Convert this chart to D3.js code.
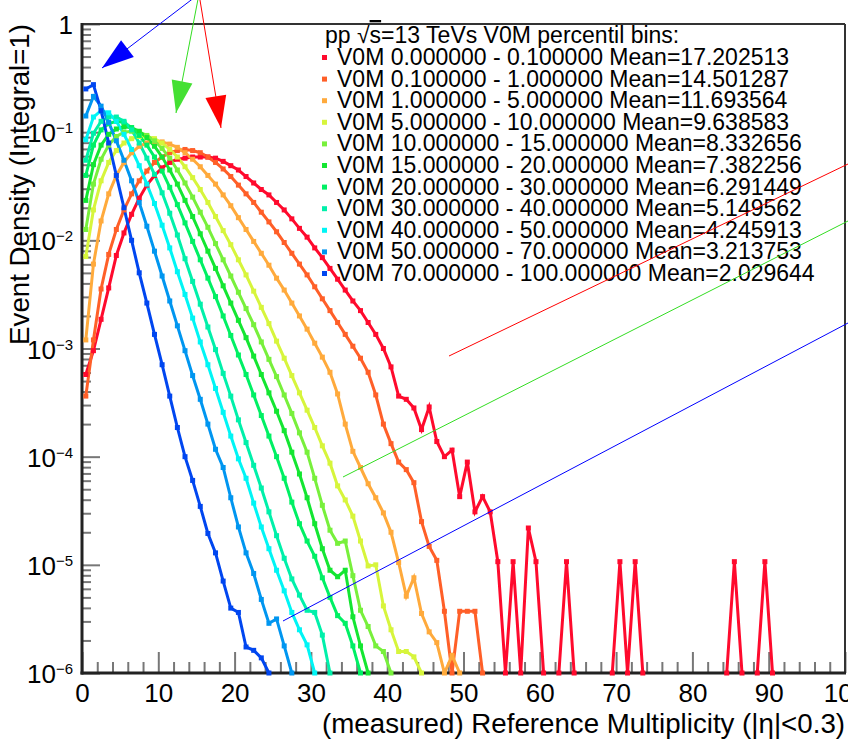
<!DOCTYPE html>
<html><head><meta charset="utf-8">
<script src="https://cdn.jsdelivr.net/npm/d3@7"></script>
<style>
html,body{margin:0;padding:0;background:#fff;overflow:hidden}
svg{display:block;font-family:"Liberation Sans",Arial,Helvetica,sans-serif}
</style></head><body>
<svg id="c" width="848" height="747"></svg>
<script>
// ---------------- DATA ----------------
// bin index k covers multiplicity [k, k+1); value = event density (integral = 1)
const percentileLow  = [0, 0.1, 1, 5, 10, 15, 20, 30, 40, 50, 70];
const percentileHigh = [0.1, 1, 5, 10, 15, 20, 30, 40, 50, 70, 100];
const meanMult = ["17.202513","14.501287","11.693564","9.638583","8.332656","7.382256","6.291449","5.149562","4.245913","3.213753","2.029644"];

const dens_0_01 = [5.75e-4, 9.55e-4, 1.86e-3, 3.63e-3, 7.24e-3, 1.17e-2, 1.74e-2, 2.45e-2, 3.24e-2, 3.98e-2,
 4.68e-2, 5.25e-2, 5.62e-2, 5.75e-2, 5.89e-2, 5.89e-2, 5.89e-2, 5.75e-2, 5.37e-2, 4.90e-2,
 4.47e-2, 3.89e-2, 3.39e-2, 2.95e-2, 2.63e-2, 2.24e-2, 1.91e-2, 1.58e-2, 1.29e-2, 1.07e-2,
 8.51e-3, 6.92e-3, 5.50e-3, 4.37e-3, 3.47e-3, 2.75e-3, 2.24e-3, 1.74e-3, 1.35e-3, 1.00e-3,
 6.76e-4, 3.63e-4, 3.39e-4, 2.82e-4, 1.78e-4, 2.88e-4, 1.38e-4, 1.00e-4, 1.15e-4, 4.27e-5,
 8.91e-5, 3.09e-5, 4.27e-5, 3.09e-5, 1.07e-5, 0, 1.07e-5, 0, 2.19e-5, 1.07e-5,
 0, 0, 0, 1.07e-5, 0, 0, 0, 0, 0, 0,
 1.07e-5, 0, 1.07e-5, 0, 0, 0, 0, 0, 0, 0,
 0, 0, 0, 0, 0, 1.07e-5, 0, 0, 0, 1.07e-5,
 0];
const dens_01_1 = [3.63e-4, 1.20e-3, 3.55e-3, 7.41e-3, 1.26e-2, 1.91e-2, 2.69e-2, 3.55e-2, 4.37e-2, 5.25e-2,
 5.89e-2, 6.46e-2, 6.76e-2, 6.92e-2, 6.76e-2, 6.46e-2, 5.89e-2, 5.25e-2, 4.57e-2, 3.89e-2,
 3.24e-2, 2.69e-2, 2.24e-2, 1.82e-2, 1.48e-2, 1.20e-2, 9.55e-3, 7.59e-3, 6.03e-3, 4.79e-3,
 3.72e-3, 2.88e-3, 2.24e-3, 1.74e-3, 1.35e-3, 1.05e-3, 8.13e-4, 6.03e-4, 3.72e-4, 2.00e-4,
 1.32e-4, 8.91e-5, 7.59e-5, 5.75e-5, 2.51e-5, 1.48e-5, 1.10e-5, 3.72e-6, 0, 3.72e-6,
 3.72e-6, 3.72e-6, 0];
const dens_1_5 = [1.20e-3, 6.03e-3, 1.51e-2, 2.69e-2, 3.98e-2, 5.25e-2, 6.46e-2, 7.41e-2, 7.94e-2, 8.13e-2,
 8.13e-2, 7.76e-2, 7.24e-2, 6.46e-2, 5.62e-2, 4.79e-2, 3.98e-2, 3.31e-2, 2.63e-2, 2.09e-2,
 1.62e-2, 1.26e-2, 9.77e-3, 7.59e-3, 5.89e-3, 4.47e-3, 3.47e-3, 2.63e-3, 2.00e-3, 1.51e-3,
 1.12e-3, 8.32e-4, 6.03e-4, 3.80e-4, 2.00e-4, 1.12e-4, 7.94e-5, 5.62e-5, 4.17e-5, 3.02e-5,
 2.00e-5, 1.05e-5, 5.13e-6, 7.59e-6, 3.55e-6, 2.40e-6, 1.91e-6, 0, 1.45e-6, 0];
const dens_5_10 = [7.08e-3, 1.91e-2, 3.55e-2, 5.25e-2, 6.76e-2, 7.94e-2, 8.71e-2, 9.12e-2, 9.12e-2, 8.71e-2,
 7.94e-2, 6.92e-2, 5.89e-2, 4.79e-2, 3.80e-2, 2.95e-2, 2.24e-2, 1.66e-2, 1.23e-2, 9.12e-3,
 6.61e-3, 4.79e-3, 3.39e-3, 2.40e-3, 1.70e-3, 1.17e-3, 8.13e-4, 5.62e-4, 3.89e-4, 2.69e-4,
 1.86e-4, 1.26e-4, 8.71e-5, 5.37e-5, 3.98e-5, 2.82e-5, 1.66e-5, 9.77e-6, 1.00e-5, 4.17e-6,
 2.51e-6, 1.58e-6, 1.58e-6, 1.41e-6, 0];
const dens_10_15 = [1.26e-2, 3.31e-2, 5.62e-2, 7.59e-2, 9.12e-2, 1.00e-1, 1.02e-1, 1.00e-1, 9.33e-2, 8.32e-2,
 7.08e-2, 5.75e-2, 4.47e-2, 3.39e-2, 2.51e-2, 1.82e-2, 1.32e-2, 9.33e-3, 6.61e-3, 4.68e-3,
 3.31e-3, 2.34e-3, 1.66e-3, 1.15e-3, 7.94e-4, 5.50e-4, 3.72e-4, 2.51e-4, 1.66e-4, 1.10e-4,
 6.31e-5, 3.55e-5, 2.09e-5, 1.58e-5, 1.66e-5, 7.94e-6, 3.80e-6, 2.69e-6, 1.78e-6, 1.58e-6,
 0];
const dens_15_20 = [2.34e-2, 5.01e-2, 7.59e-2, 9.55e-2, 1.07e-1, 1.12e-1, 1.10e-1, 1.02e-1, 8.91e-2, 7.41e-2,
 5.89e-2, 4.47e-2, 3.31e-2, 2.34e-2, 1.66e-2, 1.15e-2, 7.94e-3, 5.50e-3, 3.80e-3, 2.63e-3,
 1.82e-3, 1.26e-3, 8.51e-4, 5.75e-4, 3.89e-4, 2.63e-4, 1.74e-4, 1.10e-4, 6.92e-5, 4.17e-5,
 2.40e-5, 1.41e-5, 8.91e-6, 7.76e-6, 8.91e-6, 3.31e-6, 1.78e-6, 0];
const dens_20_30 = [3.98e-2, 7.59e-2, 1.05e-1, 1.20e-1, 1.26e-1, 1.23e-1, 1.10e-1, 9.33e-2, 7.59e-2, 5.89e-2,
 4.37e-2, 3.09e-2, 2.14e-2, 1.45e-2, 9.77e-3, 6.61e-3, 4.47e-3, 3.02e-3, 2.00e-3, 1.32e-3,
 8.71e-4, 5.75e-4, 3.72e-4, 2.40e-4, 1.55e-4, 1.00e-4, 6.31e-5, 3.80e-5, 2.40e-5, 1.66e-5,
 1.20e-5, 7.59e-6, 5.01e-6, 3.39e-6, 2.88e-6, 1.78e-6, 0];
const dens_30_40 = [5.50e-2, 9.77e-2, 1.26e-1, 1.38e-1, 1.38e-1, 1.26e-1, 1.05e-1, 7.94e-2, 5.75e-2, 4.07e-2,
 2.75e-2, 1.78e-2, 1.12e-2, 6.76e-3, 4.17e-3, 2.57e-3, 1.58e-3, 9.77e-4, 5.89e-4, 3.63e-4,
 2.19e-4, 1.35e-4, 8.32e-5, 5.13e-5, 3.09e-5, 1.86e-5, 1.15e-5, 7.41e-6, 5.25e-6, 3.80e-6,
 3.63e-6, 2.24e-6, 0];
const dens_40_50 = [8.51e-2, 1.38e-1, 1.58e-1, 1.51e-1, 1.26e-1, 9.55e-2, 6.92e-2, 4.90e-2, 3.31e-2, 2.19e-2,
 1.38e-2, 8.51e-3, 5.13e-3, 3.16e-3, 1.91e-3, 1.15e-3, 7.08e-4, 4.27e-4, 2.57e-4, 1.55e-4,
 9.55e-5, 6.31e-5, 3.72e-5, 2.24e-5, 1.41e-5, 8.91e-6, 5.75e-6, 3.63e-6, 2.51e-6, 1.82e-6,
 0];
const dens_50_70 = [1.41e-1, 2.14e-1, 1.74e-1, 1.23e-1, 8.32e-2, 5.50e-2, 3.55e-2, 2.24e-2, 1.35e-2, 7.94e-3,
 4.68e-3, 2.75e-3, 1.62e-3, 9.55e-4, 5.62e-4, 3.39e-4, 2.00e-4, 1.17e-4, 7.94e-5, 4.17e-5,
 2.24e-5, 1.29e-5, 8.32e-6, 4.79e-6, 2.88e-6, 3.16e-6, 1.78e-6, 0];
const dens_70_100 = [2.51e-1, 2.75e-1, 1.58e-1, 7.94e-2, 3.98e-2, 2.00e-2, 1.00e-2, 5.01e-3, 2.63e-3, 1.35e-3,
 7.08e-4, 3.63e-4, 1.86e-4, 1.00e-4, 6.03e-5, 3.47e-5, 1.95e-5, 1.29e-5, 7.08e-6, 3.98e-6,
 3.63e-6, 1.74e-6, 1.62e-6, 1.38e-6, 0];

const xMajorTicks = [0, 10, 20, 30, 40, 50, 60, 70, 80, 90, 100];
const yMajorTicks = [1e-6, 1e-5, 1e-4, 1e-3, 1e-2, 1e-1, 1];
const yTickExponents = [-6, -5, -4, -3, -2, -1, 0];

const legendHeader = "percentil bins:";
const xTitle = "(measured) Reference Multiplicity (|\u03b7|<0.3)";
const yTitle = "Event Density (Integral=1)";

// ---------------- STYLE ----------------
const colors = ["#ff0a2d","#ff5f28","#ffaa3c","#d7f53c","#78f03c","#14e632","#00f064","#00f0aa","#00f5f5","#0096f0","#0046f0"];
const allDens = [dens_0_01, dens_01_1, dens_1_5, dens_5_10, dens_10_15, dens_15_20, dens_20_30, dens_30_40, dens_40_50, dens_50_70, dens_70_100];
const series = allDens.map((vals, i) => ({
  label: `V0M ${percentileLow[i].toFixed(6)} - ${percentileHigh[i].toFixed(6)} Mean=${meanMult[i]}`,
  values: vals, color: colors[i]
}));

const L = 82, R = 845, T = 24, B = 673;
const FONT = "Liberation Sans, Arial, sans-serif";
const svg = d3.select("#c");
const x = d3.scaleLinear().domain([0, 100]).range([L, R]);
const y = d3.scaleLog().domain([1e-6, 1]).range([B, T]);
const yMin = 1e-6;

svg.append("rect").attr("width", 848).attr("height", 747).attr("fill", "#fff");

const defs = svg.append("defs");
defs.append("clipPath").attr("id", "clipL").append("rect").attr("x", L).attr("y", T).attr("width", R - L).attr("height", B - T + 1.5);
defs.append("clipPath").attr("id", "clipM").append("rect").attr("x", L - 3).attr("y", T).attr("width", R - L + 6).attr("height", B - T + 4);

// ---- axes ticks ----
const tickColor = "#777";
const xMinor = d3.range(0, 101, 2).filter(v => v % 10 !== 0);
const gxMinor = svg.append("g").attr("transform", `translate(0,${B})`)
  .call(d3.axisBottom(x).tickValues(xMinor).tickSize(-11).tickSizeOuter(0).tickFormat(""));
const gxMajor = svg.append("g").attr("transform", `translate(0,${B})`)
  .call(d3.axisBottom(x).tickValues(xMajorTicks).tickSize(-21).tickSizeOuter(0));
gxMajor.selectAll(".tick text").attr("y", 29).attr("dy", null)
  .attr("font-size", 26).attr("font-family", FONT).attr("fill", "#000");

const yMinor = [];
yMajorTicks.slice(0, -1).forEach(d => { for (let m = 2; m <= 9; m++) yMinor.push(d * m); });
const gyMinor = svg.append("g").attr("transform", `translate(${L},0)`)
  .call(d3.axisLeft(y).tickValues(yMinor).tickSize(-9).tickSizeOuter(0).tickFormat(""));
const gyMajor = svg.append("g").attr("transform", `translate(${L},0)`)
  .call(d3.axisLeft(y).tickValues(yMajorTicks).tickSize(-18).tickSizeOuter(0).tickFormat(""));
gyMajor.selectAll(".tick").each(function(d) {
  const g = d3.select(this);
  g.select("text").remove();
  const e = yTickExponents[yMajorTicks.indexOf(d)];
  const t = g.append("text").attr("x", -9).attr("y", 9.5).attr("text-anchor", "end")
    .attr("font-size", 26).attr("font-family", FONT).attr("fill", "#000");
  if (e === 0) t.text("1");
  else {
    t.append("tspan").text("10");
    t.append("tspan").attr("dy", -9).attr("font-size", 15).text("\u2212" + (-e));
  }
});
[gxMinor, gxMajor, gyMinor, gyMajor].forEach(g => {
  g.select(".domain").remove();
  g.selectAll(".tick line").attr("stroke", tickColor).attr("stroke-width", 2);
});

// ---- frame ----
svg.append("line").attr("x1", L).attr("x2", R).attr("y1", T).attr("y2", T).attr("stroke", "#333").attr("stroke-width", 2);
svg.append("line").attr("x1", R).attr("x2", R).attr("y1", T).attr("y2", B).attr("stroke", "#333").attr("stroke-width", 2);
svg.append("line").attr("x1", L).attr("x2", L).attr("y1", T - 1).attr("y2", B + 1.5).attr("stroke", "#222").attr("stroke-width", 3);
svg.append("line").attr("x1", L - 1.5).attr("x2", R + 1).attr("y1", B).attr("y2", B).attr("stroke", "#222").attr("stroke-width", 3);

// ---- series ----
const gLines = svg.append("g").attr("clip-path", "url(#clipL)");
const gMarks = svg.append("g").attr("clip-path", "url(#clipM)");
const lineGen = d3.line().x(d => x(d.k + 0.5)).y(d => y(Math.max(d.v, yMin)));
series.forEach(s => {
  const pts = s.values.map((v, k) => ({ k, v }));
  const runs = []; let cur = null; const used = new Set();
  for (let k = 0; k < pts.length - 1; k++) {
    if (pts[k].v > 0 || pts[k + 1].v > 0) {
      if (!cur) { cur = [pts[k]]; runs.push(cur); }
      cur.push(pts[k + 1]); used.add(k); used.add(k + 1);
    } else cur = null;
  }
  runs.forEach(r => gLines.append("path").attr("d", lineGen(r)).attr("fill", "none")
    .attr("stroke", s.color).attr("stroke-width", 3).attr("stroke-linejoin", "miter"));
  gMarks.selectAll(null).data(pts.filter(p => used.has(p.k))).enter().append("rect")
    .attr("x", d => x(d.k + 0.5) - 2.5).attr("y", d => y(Math.max(d.v, yMin)) - 2.5)
    .attr("width", 5).attr("height", 5).attr("fill", s.color);
});

// ---- titles ----
svg.append("text").attr("x", R).attr("y", 733).attr("text-anchor", "end")
  .attr("font-size", 27.7).attr("fill", "#000").text(xTitle);
svg.append("text").attr("transform", "rotate(-90)").attr("x", -T).attr("y", 29)
  .attr("text-anchor", "end").attr("font-size", 27.7).attr("fill", "#000").text(yTitle);

// ---- legend ----
const lg = svg.append("g");
const hdr = lg.append("text").attr("x", 325).attr("y", 43).attr("font-size", 23).attr("fill", "#000");
hdr.append("tspan").text("pp \u221a");
hdr.append("tspan").attr("text-decoration", "overline").text("s");
hdr.append("tspan").text("=13 TeVs V0M " + legendHeader);
series.forEach((s, i) => {
  const by = 65 + i * 21.6;
  lg.append("rect").attr("x", 322).attr("y", by - 10).attr("width", 5).attr("height", 5).attr("fill", s.color);
  lg.append("text").attr("x", 337).attr("y", by).attr("font-size", 23).attr("fill", "#000").text(s.label);
});

// ---- arrows ----
function arrow(x1, y1, x2, y2, color, headColor) {
  svg.append("line").attr("x1", x1).attr("y1", y1).attr("x2", x2).attr("y2", y2).attr("stroke", color).attr("stroke-width", 1);
  const dx = x2 - x1, dy = y2 - y1, len = Math.hypot(dx, dy), ux = dx / len, uy = dy / len;
  const hl = 32, hw = 10.5;
  const bx = x2 - ux * hl, by = y2 - uy * hl;
  svg.append("path").attr("d", `M${x2},${y2}L${bx - uy * hw},${by + ux * hw}L${bx + uy * hw},${by - ux * hw}Z`).attr("fill", headColor);
}
arrow(199, -6, 102, 68, "#0000ff", "#0000ff");
arrow(199, -6, 176, 113, "#33dd22", "#44e033");
arrow(199, -6, 221, 128, "#ff0000", "#ff0000");
svg.append("line").attr("x1", 449).attr("y1", 356).attr("x2", 848).attr("y2", 164).attr("stroke", "#ff0000").attr("stroke-width", 1);
svg.append("line").attr("x1", 343).attr("y1", 477).attr("x2", 848).attr("y2", 221).attr("stroke", "#33dd22").attr("stroke-width", 1);
svg.append("line").attr("x1", 283).attr("y1", 621).attr("x2", 848).attr("y2", 323).attr("stroke", "#0000ff").attr("stroke-width", 1);
</script>
</body></html>
